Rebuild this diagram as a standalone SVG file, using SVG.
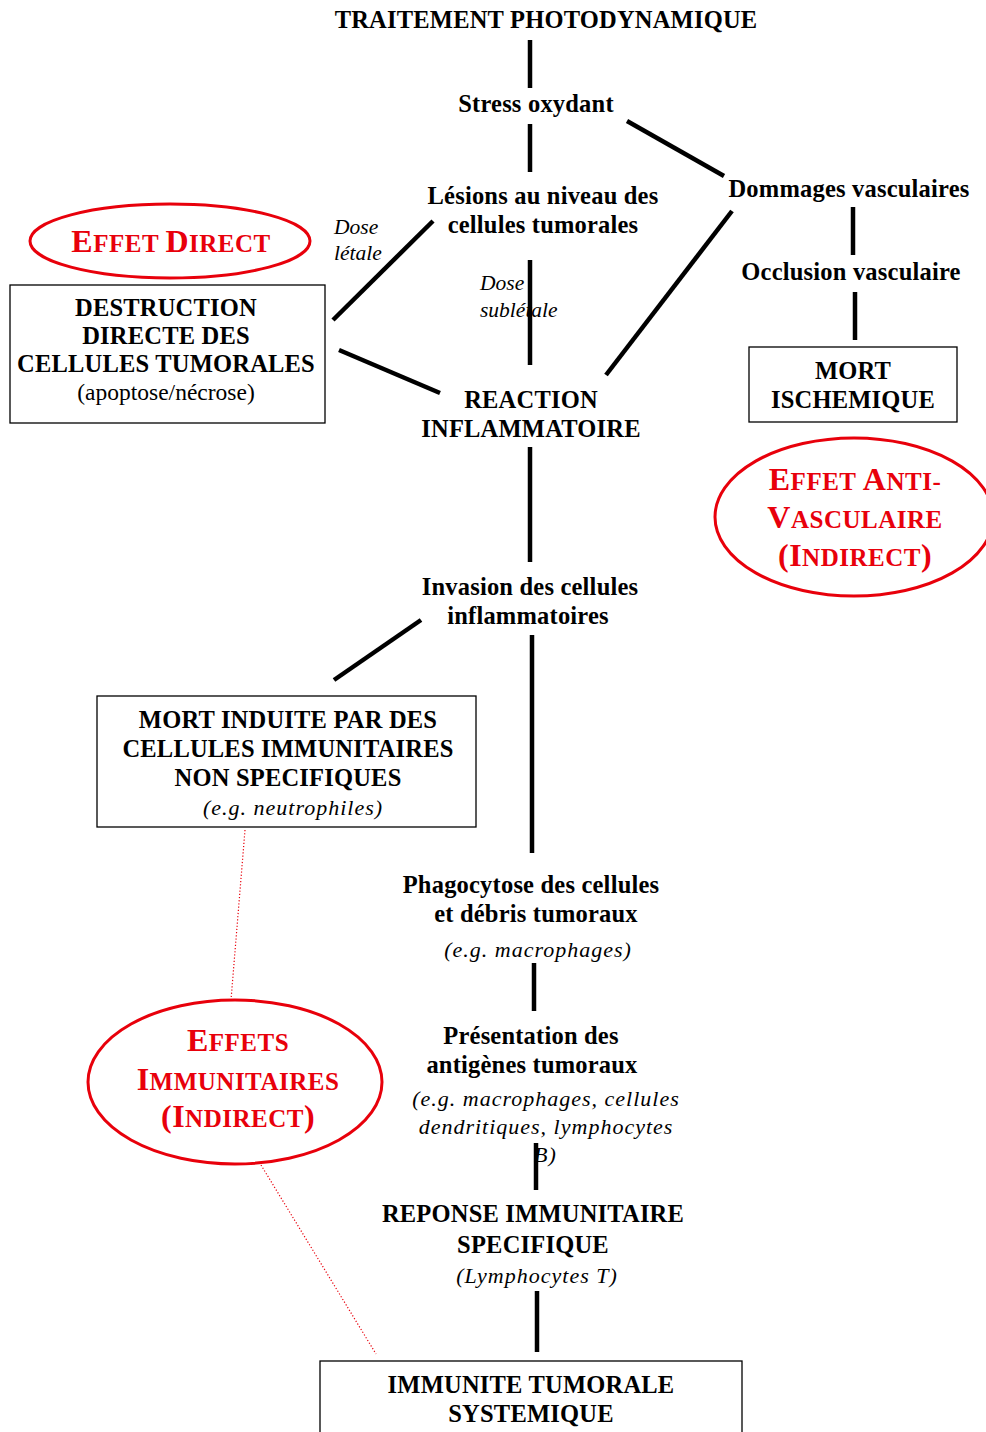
<svg xmlns="http://www.w3.org/2000/svg" width="986" height="1432" viewBox="0 0 986 1432">
<style>
text{font-family:"Liberation Serif","Times New Roman",serif;fill:#000;text-anchor:middle}
.b{font-weight:bold;font-size:24.5px;letter-spacing:0.2px}
.i{font-style:italic;font-size:22px;letter-spacing:1px}
.il{font-style:italic;font-size:21.5px;text-anchor:start}
.r{font-size:23.5px}
.red{fill:#e8000b;font-weight:bold;font-size:25px;letter-spacing:0.5px}
.big{font-size:32px}
.box{fill:#fff;stroke:#000;stroke-width:1.3}
.ell{fill:none;stroke:#e8000b;stroke-width:3}
.c line{stroke:#000;stroke-width:4.5}
.d line{stroke:#e8000b;stroke-width:1.2;stroke-dasharray:1.2 2}
</style>
<rect width="986" height="1432" fill="#fff"/>
<g class="c" id="connectors">
<line x1="530" y1="40" x2="530" y2="88"/>
<line x1="530" y1="124" x2="530" y2="172"/>
<line x1="627" y1="121" x2="724" y2="176"/>
<line x1="853" y1="207" x2="853" y2="255"/>
<line x1="855" y1="292" x2="855" y2="340"/>
<line x1="732" y1="211" x2="606" y2="375"/>
<line x1="433" y1="221" x2="333" y2="320"/>
<line x1="339" y1="350" x2="440" y2="393"/>
<line x1="530" y1="260" x2="530" y2="365"/>
<line x1="530" y1="447" x2="530" y2="562"/>
<line x1="421" y1="620" x2="334" y2="680"/>
<line x1="532" y1="635" x2="532" y2="853"/>
<line x1="534" y1="963" x2="534" y2="1011"/>
<line x1="536" y1="1143" x2="536" y2="1190"/>
<line x1="537" y1="1291" x2="537" y2="1352"/>
</g>
<g class="d" id="dotted">
<line x1="245" y1="830" x2="231" y2="1000"/>
<line x1="261" y1="1165" x2="376" y2="1354"/>
</g>
<g id="n-traitement"><text class="b" x="546" y="28">TRAITEMENT PHOTODYNAMIQUE</text></g>
<g id="n-stress"><text class="b" x="536" y="112">Stress oxydant</text></g>
<g id="n-lesions"><text class="b" x="543" y="204">Lésions au niveau des</text><text class="b" x="543" y="233">cellules tumorales</text></g>
<g id="n-dommages"><text class="b" x="849" y="197">Dommages vasculaires</text></g>
<g id="n-occlusion"><text class="b" x="851" y="280">Occlusion vasculaire</text></g>
<g id="n-mort-isch"><rect class="box" x="749" y="347" width="208" height="75"/><text class="b" x="853" y="379">MORT</text><text class="b" x="853" y="408">ISCHEMIQUE</text></g>
<g id="n-effet-anti"><ellipse class="ell" cx="854" cy="517" rx="139" ry="79"/>
<text class="red" x="855" y="490"><tspan class="big">E</tspan>FFET <tspan class="big">A</tspan>NTI-</text>
<text class="red" x="855" y="528"><tspan class="big">V</tspan>ASCULAIRE</text>
<text class="red" x="855" y="566"><tspan class="big">(I</tspan>NDIRECT<tspan class="big">)</tspan></text></g>
<g id="l-dose-letale"><text class="il" x="334" y="234">Dose</text><text class="il" x="334" y="260">létale</text></g>
<g id="n-effet-direct"><ellipse class="ell" cx="170" cy="241" rx="140" ry="37"/>
<text class="red" x="171" y="252"><tspan class="big">E</tspan>FFET <tspan class="big">D</tspan>IRECT</text></g>
<g id="n-destruction"><rect class="box" x="10" y="285" width="315" height="138"/>
<text class="b" x="166" y="316">DESTRUCTION</text><text class="b" x="166" y="344">DIRECTE DES</text><text class="b" x="166" y="372">CELLULES TUMORALES</text><text class="r" x="166" y="400">(apoptose/nécrose)</text></g>
<g id="l-dose-subletale"><text class="il" x="480" y="290">Dose</text><text class="il" x="480" y="317">sublétale</text></g>
<g id="n-reaction"><text class="b" x="531" y="408">REACTION</text><text class="b" x="531" y="437">INFLAMMATOIRE</text></g>
<g id="n-invasion"><text class="b" x="530" y="595">Invasion des cellules</text><text class="b" x="528" y="624">inflammatoires</text></g>
<g id="n-mort-induite"><rect class="box" x="97" y="696" width="379" height="131"/>
<text class="b" x="288" y="728">MORT INDUITE PAR DES</text><text class="b" x="288" y="757">CELLULES IMMUNITAIRES</text><text class="b" x="288" y="786">NON SPECIFIQUES</text><text class="i" x="293" y="815">(e.g. neutrophiles)</text></g>
<g id="n-phagocytose"><text class="b" x="531" y="893">Phagocytose des cellules</text><text class="b" x="536" y="922">et débris tumoraux</text><text class="i" x="538" y="957">(e.g. macrophages)</text></g>
<g id="n-presentation"><text class="b" x="531" y="1044">Présentation des</text><text class="b" x="532" y="1073">antigènes tumoraux</text>
<text class="i" x="546" y="1106">(e.g. macrophages, cellules</text><text class="i" x="546" y="1134">dendritiques, lymphocytes</text><text class="i" x="534" y="1162" style="text-anchor:start">B)</text></g>
<g id="n-effets-immun"><ellipse class="ell" cx="235" cy="1082" rx="147" ry="82"/>
<text class="red" x="238" y="1051"><tspan class="big">E</tspan>FFETS</text>
<text class="red" x="238" y="1090"><tspan class="big">I</tspan>MMUNITAIRES</text>
<text class="red" x="238" y="1127"><tspan class="big">(I</tspan>NDIRECT<tspan class="big">)</tspan></text></g>
<g id="n-reponse"><text class="b" x="533" y="1222">REPONSE IMMUNITAIRE</text><text class="b" x="533" y="1253">SPECIFIQUE</text><text class="i" x="537" y="1283">(Lymphocytes T)</text></g>
<g id="n-immunite"><rect class="box" x="320" y="1361" width="422" height="80"/><text class="b" x="531" y="1393">IMMUNITE TUMORALE</text><text class="b" x="531" y="1422">SYSTEMIQUE</text></g>
</svg>
